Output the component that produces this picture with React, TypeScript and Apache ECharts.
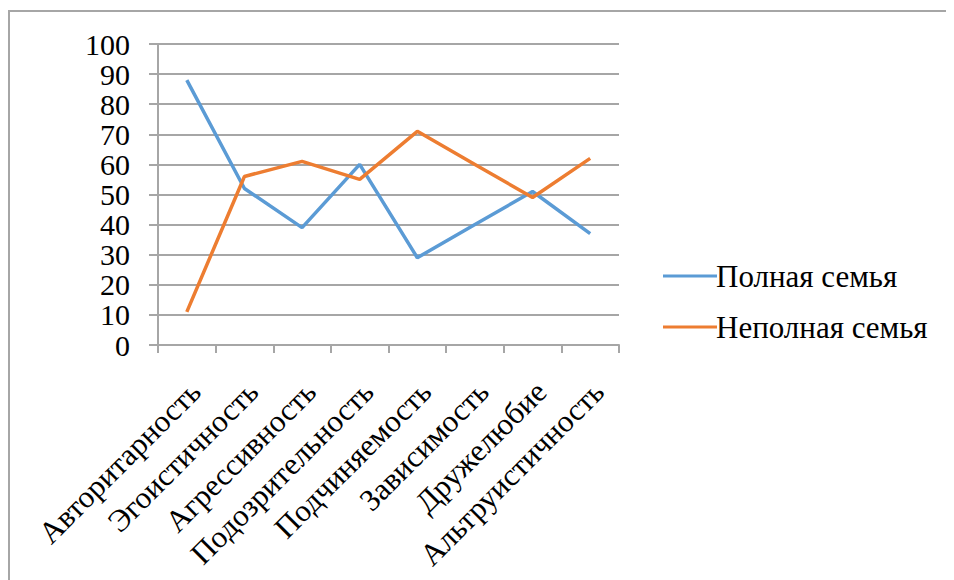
import React, { useEffect, useRef } from "react";
import * as echarts from "echarts";

const categories = [
  "Авторитарность",
  "Эгоистичность",
  "Агрессивность",
  "Подозрительность",
  "Подчиняемость",
  "Зависимость",
  "Дружелюбие",
  "Альтруистичность",
];
const seriesNames = ["Полная семья", "Неполная семья"];
const fullFamily = [88, 52, 39, 60, 29, 40, 51, 37];
const singleParent = [11, 56, 61, 55, 71, 60, 49, 62];
const colors = ["#5B9BD5", "#ED7D31"];

const FONT = "Liberation Serif";
const GRAY = "#a6a6a6";

function buildOption() {
  return {
    animation: false,
    textStyle: { fontFamily: FONT, color: "#000" },
    grid: { left: 150, top: 36, width: 461, height: 301, containLabel: false },
    legend: {
      orient: "vertical",
      left: 650,
      top: 246,
      icon: "rect",
      itemWidth: 54,
      itemHeight: 3,
      itemGap: 17,
      textStyle: { fontFamily: FONT, fontSize: 31, color: "#000", lineHeight: 34, padding: [0, 0, 0, -6] },
      data: seriesNames,
    },
    xAxis: {
      type: "category",
      data: categories,
      boundaryGap: true,
      axisLine: { lineStyle: { color: GRAY, width: 2 } },
      axisTick: { show: true, length: 8, lineStyle: { color: GRAY, width: 2 } },
      axisLabel: {
        rotate: 45,
        interval: 0,
        margin: 50,
        padding: [0, -12, 0, 0],
        fontFamily: FONT,
        fontSize: 31,
        color: "#000",
      },
    },
    yAxis: {
      type: "value",
      min: 0,
      max: 100,
      interval: 10,
      axisLine: { show: true, lineStyle: { color: GRAY, width: 2 } },
      axisTick: { show: true, length: 9, lineStyle: { color: GRAY, width: 2 } },
      splitLine: { lineStyle: { color: GRAY, width: 2 } },
      axisLabel: {
        fontFamily: FONT,
        fontSize: 30,
        lineHeight: 12,
        color: "#000",
        margin: 28,
        showMinLabel: true,
        showMaxLabel: true,
        hideOverlap: false,
      },
    },
    series: [
      {
        name: seriesNames[0],
        type: "line",
        data: fullFamily,
        symbol: "none",
        lineStyle: { color: colors[0], width: 3.5 },
        itemStyle: { color: colors[0] },
      },
      {
        name: seriesNames[1],
        type: "line",
        data: singleParent,
        symbol: "none",
        lineStyle: { color: colors[1], width: 3.5 },
        itemStyle: { color: colors[1] },
      },
    ],
  };
}

export default function App() {
  const ref = useRef<HTMLDivElement>(null);
  useEffect(() => {
    if (!ref.current) return;
    const chart = echarts.init(ref.current, undefined, { renderer: "svg" });
    chart.setOption(buildOption());
    return () => {
      chart.dispose();
    };
  }, []);
  return (
    <div style={{ position: "relative", width: 946, height: 572, overflow: "hidden" }}>
      <div ref={ref} style={{ width: 946, height: 572 }} />
      <div
        style={{
          position: "absolute",
          left: 0,
          top: 2,
          width: 2000,
          height: 2000,
          borderLeft: `2px solid ${GRAY}`,
          borderTop: `2px solid ${GRAY}`,
          pointerEvents: "none",
        }}
      />
    </div>
  );
}
